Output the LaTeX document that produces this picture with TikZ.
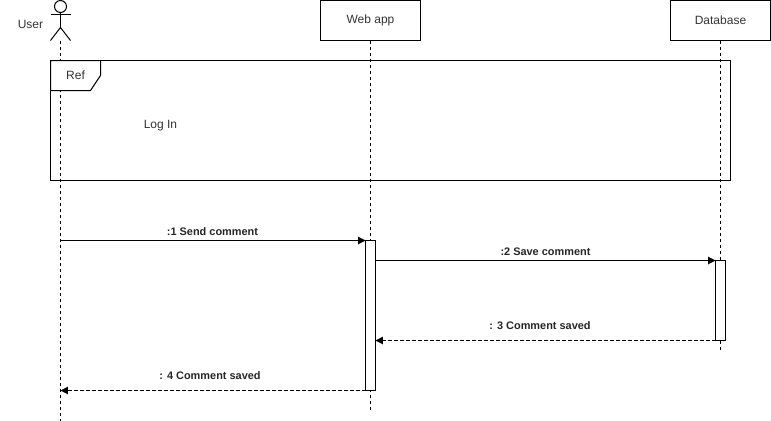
\documentclass[tikz,border=0pt]{standalone}
\usepackage{fontspec}
\setmainfont{Liberation Sans}
\usetikzlibrary{arrows.meta}

\begin{document}
\begin{tikzpicture}[x=0.75pt,y=-0.75pt,line width=0.75pt]
   \tikzset{head/.style={draw,minimum width=75pt,minimum height=30pt,inner sep=0pt,outer sep=0pt,font=\fontsize{9}{11}\selectfont,text=black!80}};
   \tikzset{act/.style={draw,fill=white,minimum width=7.5pt,minimum height=#1,inner sep=0pt,outer sep=0pt,anchor=north}};
   \tikzset{lifeline/.style={dash pattern=on 2.6pt off 1.9pt}};
   \tikzset{msg/.style={-{Triangle[length=5.5pt,width=5.5pt]}}};
   \tikzset{msglabel/.style={font=\bfseries\fontsize{8.2}{10}\selectfont,text=black!85,inner sep=0pt}};
   \tikzset{plain/.style={font=\fontsize{9}{11}\selectfont,text=black!80,inner sep=0pt}};

\useasboundingbox (0,0) rectangle (771,421);

%Heads--------------------------

\node[head] (web) at (370.5,20.5) {Web app};
\node[head] (db) at (720.5,20.5) {Database};
\node[plain] (user) at (30.5,24.5) {User};

\coordinate (hip) at (60.5,27.5);
\coordinate (foot) at (60.5,40.5);
\node[draw,circle,minimum size=9pt,inner sep=0pt,outer sep=0pt] (face) at (60.5,6.5) {};
\coordinate (armL) at (50.5,14.5);
\coordinate (armR) at (70.5,14.5);
\coordinate (legL) at (50.5,40.5);
\coordinate (legR) at (70.5,40.5);
\draw (face) -- (hip);
\draw (armL) -- (armR);
\draw (legL) -- (hip) -- (legR);

%Lifelines--------------------------

\coordinate (userEnd) at (60.5,420.5);
\coordinate (webEnd) at (370.5,410.5);
\coordinate (dbEnd) at (720.5,350.5);

\draw[lifeline] (foot) -- (userEnd);
\draw[lifeline] (web) -- (webEnd);
\draw[lifeline] (db) -- (dbEnd);

%Ref--------------------------

\node[draw,minimum width=510pt,minimum height=90pt,inner sep=0pt,outer sep=0pt] (frame) at (390.5,120.5) {};
\draw[fill=white] (frame.north west) -- ++(50,0) -- ++(0,15) -- ++(-10,15) -- ++(-40,0) -- cycle;
\node[plain] (ref) at (75.5,75) {Ref};
\node[plain] (login) at (160.5,125.5) {Log In};

%Activations--------------------------

\node[act=112.5pt] (bar1) at (370.5,240.5) {};
\node[act=60pt] (bar2) at (720.5,260.5) {};

\coordinate (u1) at (60.5,240.5);
\coordinate (u2) at (60.5,390.5);
\coordinate (w2) at (375.5,260.5);
\coordinate (d3) at (715.5,340.5);
\coordinate (w3) at (375.5,340.5);

%Messages--------------------------

\draw[msg] (u1) -- (bar1.north west);
\draw[msg] (w2) -- (bar2.north west);
\draw[msg,lifeline] (d3) -- (w3);
\draw[msg,lifeline] (bar1.south west) -- (u2);

\node[msglabel] (m1) at (212.5,231.5) {:1 Send comment};
\node[msglabel] (m2) at (545.5,251.5) {:2 Save comment};
\node[msglabel] (m3) at (540,325.5) {: 3 Comment saved};
\node[msglabel] (m4) at (210,375.5) {: 4 Comment saved};

\end{tikzpicture}
\end{document}
